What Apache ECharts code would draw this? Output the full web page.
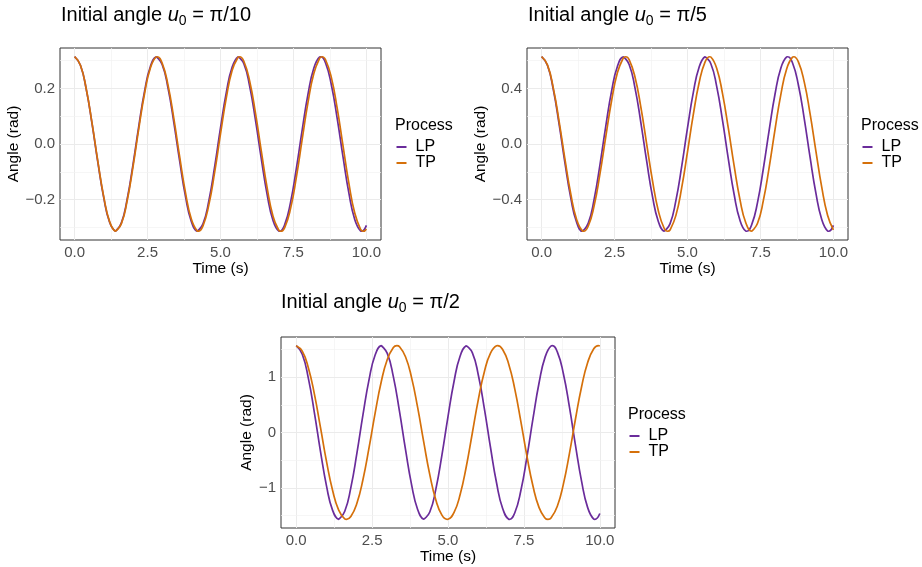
<!DOCTYPE html>
<html lang="en">
<head>
  <meta charset="UTF-8">
  <title>Pendulum: LP vs TP</title>
  <script src="https://cdn.jsdelivr.net/npm/echarts@6.0.0/dist/echarts.min.js"></script>
  <style>
    html, body {
      margin: 0;
      padding: 0;
      background: #fff;
    }

    #main {
      width: 922px;
      height: 567px;
    }
  </style>
</head>
<body>
  <div id="main"></div>

  <script type="text/javascript">
    // time samples (s)
    var timeS = [0, 0.2, 0.4, 0.6, 0.8, 1, 1.2, 1.4, 1.6, 1.8, 2, 2.2, 2.4, 2.6, 2.8, 3, 3.2, 3.4, 3.6, 3.8,
      4, 4.2, 4.4, 4.6, 4.8, 5, 5.2, 5.4, 5.6, 5.8, 6, 6.2, 6.4, 6.6, 6.8, 7, 7.2, 7.4, 7.6, 7.8,
      8, 8.2, 8.4, 8.6, 8.8, 9, 9.2, 9.4, 9.6, 9.8, 10];

    // angle (rad)
    var lpPi10 = [0.3142, 0.2833, 0.1967, 0.0714, -0.0680, -0.1939, -0.2817, -0.3141, -0.2848, -0.1994,
      -0.0748, 0.0646, 0.1912, 0.2802, 0.3141, 0.2862, 0.2020, 0.0781, -0.0611, -0.1884,
      -0.2786, -0.3140, -0.2876, -0.2047, -0.0815, 0.0577, 0.1856, 0.2770, 0.3138, 0.2890,
      0.2073, 0.0849, -0.0543, -0.1828, -0.2753, -0.3137, -0.2904, -0.2100, -0.0882, 0.0509,
      0.1799, 0.2736, 0.3135, 0.2917, 0.2125, 0.0915, -0.0474, -0.1771, -0.2719, -0.3132, -0.2930];
    var tpPi10 = [0.3142, 0.2836, 0.1980, 0.0739, -0.0646, -0.1905, -0.2794, -0.3140, -0.2876, -0.2053,
      -0.0831, 0.0552, 0.1828, 0.2749, 0.3136, 0.2913, 0.2125, 0.0923, -0.0458, -0.1750,
      -0.2702, -0.3129, -0.2948, -0.2194, -0.1014, 0.0363, 0.1670, 0.2652, 0.3118, 0.2979,
      0.2261, 0.1104, -0.0268, -0.1588, -0.2599, -0.3105, -0.3008, -0.2326, -0.1193, 0.0173,
      0.1505, 0.2544, 0.3089, 0.3034, 0.2390, 0.1280, -0.0077, -0.1420, -0.2487, -0.3071, -0.3058];

    var lpPi5 = [0.6283, 0.5666, 0.3933, 0.1428, -0.1359, -0.3879, -0.5635, -0.6283, -0.5695, -0.3987,
      -0.1495, 0.1291, 0.3823, 0.5603, 0.6282, 0.5724, 0.4041, 0.1563, -0.1223, -0.3768,
      -0.5572, -0.6279, -0.5753, -0.4094, -0.1630, 0.1154, 0.3711, 0.5539, 0.6277, 0.5781,
      0.4147, 0.1697, -0.1086, -0.3656, -0.5506, -0.6274, -0.5808, -0.4199, -0.1764, 0.1017,
      0.3598, 0.5472, 0.6269, 0.5833, 0.4251, 0.1831, -0.0948, -0.3541, -0.5437, -0.6264, -0.5859];
    var tpPi5 = [0.6283, 0.5695, 0.4040, 0.1629, -0.1088, -0.3601, -0.5439, -0.6259, -0.5907, -0.4448,
      -0.2157, 0.0539, 0.3133, 0.5141, 0.6186, 0.6072, 0.4822, 0.2668, 0.0015, -0.2641,
      -0.4803, -0.6065, -0.6191, -0.5158, -0.3159, -0.0568, 0.2129, 0.4427, 0.5896, 0.6261,
      0.5454, 0.3625, 0.1117, -0.1600, -0.4017, -0.5682, -0.6283, -0.5707, -0.4063, -0.1657,
      0.1059, 0.3576, 0.5424, 0.6256, 0.5917, 0.4469, 0.2185, -0.0509, -0.3107, -0.5124, -0.6180];

    var lpPi2 = [1.5708, 1.4164, 0.9833, 0.3569, -0.3398, -0.9697, -1.4087, -1.5706, -1.4238, -0.9968,
      -0.3738, 0.3228, 0.9558, 1.4008, 1.5705, 1.4310, 1.0102, 0.3907, -0.3057, -0.9420,
      -1.3930, -1.5698, -1.4382, -1.0235, -0.4075, 0.2886, 0.9279, 1.3848, 1.5692, 1.4451,
      1.0367, 0.4243, -0.2714, -0.9139, -1.3765, -1.5684, -1.4519, -1.0498, -0.4411, 0.2543,
      0.8996, 1.3680, 1.5673, 1.4583, 1.0627, 0.4577, -0.2370, -0.8853, -1.3594, -1.5661, -1.4648];
    var tpPi2 = [1.5708, 1.4708, 1.1729, 0.6942, 0.0922, -0.5273, -1.0504, -1.4041, -1.5623, -1.5207,
      -1.2798, -0.8501, -0.2750, 0.3520, 0.9131, 1.3206, 1.5368, 1.5535, 1.3704, 0.9934,
      0.4531, -0.1708, -0.7624, -1.2207, -1.4943, -1.5693, -1.4443, -1.1223, -0.6239, -0.0132,
      0.6000, 1.1048, 1.4348, 1.5681, 1.5014, 1.2360, 0.7848, 0.1971, -0.4280, -0.9737,
      -1.3584, -1.5498, -1.5415, -1.3336, -0.9337, -0.3776, 0.2489, 0.8285, 1.2655, 1.5146, 1.5646];

    // turning points (trough, crest, ...)
    var lpTurnT = [1.405, 2.810, 4.215, 5.620, 7.025, 8.430, 9.835];
    var tpPi10TurnT = [1.414, 2.827, 4.241, 5.655, 7.068, 8.482, 9.896];
    var tpPi5TurnT = [1.440, 2.881, 4.321, 5.762, 7.202, 8.643];
    var tpPi2TurnT = [1.658, 3.317, 4.975, 6.633, 8.292, 9.950];
    var turnPi10 = [-0.3142, 0.3142, -0.3142, 0.3142, -0.3142, 0.3142, -0.3142];
    var turnPi5 = [-0.6283, 0.6283, -0.6283, 0.6283, -0.6283, 0.6283, -0.6283];
    var turnPi2 = [-1.5708, 1.5708, -1.5708, 1.5708, -1.5708, 1.5708, -1.5708];

    // ticks and grid breaks
    var xTicks = [0, 2.5, 5, 7.5, 10];
    var xMinor = [1.25, 3.75, 6.25, 8.75];
    var yTicks = [[-0.2, 0, 0.2], [-0.4, 0, 0.4], [-1, 0, 1]];
    var yMinor = [[-0.3, -0.1, 0.1, 0.3], [-0.6, -0.2, 0.2, 0.6], [-1.5, -0.5, 0.5, 1.5]];
    var titleTails = [' = \u03c0/10', ' = \u03c0/5', ' = \u03c0/2'];
    var processNames = ['LP', 'TP'];
    var colors = ['#6a2c9b', '#d5700a'];

    var FONT = '"Liberation Sans", Arial, sans-serif';

    // panel boxes (px)
    var panels = [
      { left: 60, top: 48, width: 321, height: 192, nameGap: 36, title: [61, 2], legend: [395, 117] },
      { left: 527, top: 48, width: 321, height: 192, nameGap: 36, title: [528, 2], legend: [861, 117] },
      { left: 281, top: 337, width: 334, height: 191, nameGap: 26, title: [281, 289], legend: [628, 406] }
    ];
    var panelData = [
      [[lpPi10, lpTurnT, turnPi10], [tpPi10, tpPi10TurnT, turnPi10]],
      [[lpPi5, lpTurnT, turnPi5], [tpPi5, tpPi5TurnT, turnPi5]],
      [[lpPi2, lpTurnT, turnPi2], [tpPi2, tpPi2TurnT, turnPi2]]
    ];

    // samples + turning points, in time order
    function pairs(ys, turnT, turnV) {
      var out = timeS.map(function(t, i) { return [t, ys[i]]; });
      turnT.forEach(function(t, i) { out.push([t, turnV[i]]); });
      out.sort(function(a, b) { return a[0] - b[0]; });
      return out;
    }

    // ggplot-like 5% expansion
    function padMin(v) { return v.min - 0.05 * (v.max - v.min); }
    function padMax(v) { return v.max + 0.05 * (v.max - v.min); }

    function fmtY(dec) {
      return function(v) {
        var s = Math.abs(v).toFixed(dec);
        return (v < 0 ? '\u2212' : '') + s;
      };
    }

    var grids = [], xAxes = [], yAxes = [], titles = [], legends = [], series = [];

    panels.forEach(function(p, i) {
      grids.push({
        left: p.left, top: p.top, width: p.width, height: p.height,
        show: true, borderColor: '#333333', borderWidth: 1, backgroundColor: '#fff'
      });

      xAxes.push({
        type: 'value', gridIndex: i, min: padMin, max: padMax,
        name: 'Time (s)', nameLocation: 'middle', nameGap: 18,
        nameTextStyle: { fontFamily: FONT, fontSize: 15.5, color: '#000' },
        axisLine: { show: false },
        axisTick: { show: true, length: 3, lineStyle: { color: '#333', width: 1 }, customValues: xTicks },
        axisLabel: {
          customValues: xTicks, margin: 5, fontFamily: FONT, fontSize: 15, color: '#4d4d4d',
          formatter: function(v) { return v.toFixed(1); }
        },
        splitLine: { show: false }
      });

      yAxes.push({
        type: 'value', gridIndex: i, min: padMin, max: padMax,
        name: 'Angle (rad)', nameLocation: 'middle', nameGap: p.nameGap,
        nameTextStyle: { fontFamily: FONT, fontSize: 15.5, color: '#000' },
        axisLine: { show: false },
        axisTick: { show: true, length: 3, lineStyle: { color: '#333', width: 1 }, customValues: yTicks[i] },
        axisLabel: {
          customValues: yTicks[i], margin: 5, fontFamily: FONT, fontSize: 15, color: '#4d4d4d',
          formatter: fmtY(i === 2 ? 0 : 1)
        },
        splitLine: { show: false }
      });

      titles.push({
        text: '{n|Initial angle }{u|u}{s|0}{n|' + titleTails[i] + '}',
        left: p.title[0], top: p.title[1], padding: 0,
        textStyle: {
          fontFamily: FONT, fontWeight: 'normal', color: '#000', fontSize: 20, lineHeight: 26,
          rich: {
            n: { fontFamily: FONT, fontSize: 20, color: '#000', lineHeight: 26 },
            u: { fontFamily: FONT, fontSize: 20, fontStyle: 'italic', color: '#000', lineHeight: 26 },
            s: { fontFamily: FONT, fontSize: 14, color: '#000', lineHeight: 13, verticalAlign: 'bottom' }
          }
        }
      });
      titles.push({
        text: 'Process', left: p.legend[0], top: p.legend[1], padding: 0,
        textStyle: { fontFamily: FONT, fontWeight: 'normal', color: '#000', fontSize: 16, lineHeight: 18 }
      });

      legends.push({
        data: processNames, orient: 'vertical',
        left: p.legend[0] + 1.5, top: p.legend[1] + 22, padding: 0,
        icon: 'rect', itemWidth: 10, itemHeight: 2, itemGap: 0,
        selectedMode: false,
        textStyle: { fontFamily: FONT, fontSize: 16, color: '#000', lineHeight: 16, padding: [0, 0, 0, 4] }
      });

      // panel grid lines (major + minor), kept below the curves
      var gl = [];
      xTicks.forEach(function(v) { gl.push({ xAxis: v, lineStyle: { color: '#ebebeb', width: 1, type: 'solid' } }); });
      xMinor.forEach(function(v) { gl.push({ xAxis: v, lineStyle: { color: '#f2f2f2', width: 0.7, type: 'solid' } }); });
      yTicks[i].forEach(function(v) { gl.push({ yAxis: v, lineStyle: { color: '#ebebeb', width: 1, type: 'solid' } }); });
      yMinor[i].forEach(function(v) { gl.push({ yAxis: v, lineStyle: { color: '#f2f2f2', width: 0.7, type: 'solid' } }); });
      series.push({
        type: 'line', xAxisIndex: i, yAxisIndex: i, data: [], silent: true, z: 1,
        markLine: { z: 1, silent: true, symbol: ['none', 'none'], label: { show: false }, animation: false, data: gl }
      });

      processNames.forEach(function(name, j) {
        var d = panelData[i][j];
        series.push({
          name: name, type: 'line', xAxisIndex: i, yAxisIndex: i, z: 3 + j,
          data: pairs(d[0], d[1], d[2]),
          smooth: true, showSymbol: false, symbol: 'none',
          color: colors[j],
          lineStyle: { color: colors[j], width: 1.7 }
        });
      });
    });

    var myChart = echarts.init(document.getElementById('main'));
    myChart.setOption({
      animation: false,
      backgroundColor: '#fff',
      title: titles,
      legend: legends,
      grid: grids,
      xAxis: xAxes,
      yAxis: yAxes,
      series: series
    });
  </script>
</body>
</html>
